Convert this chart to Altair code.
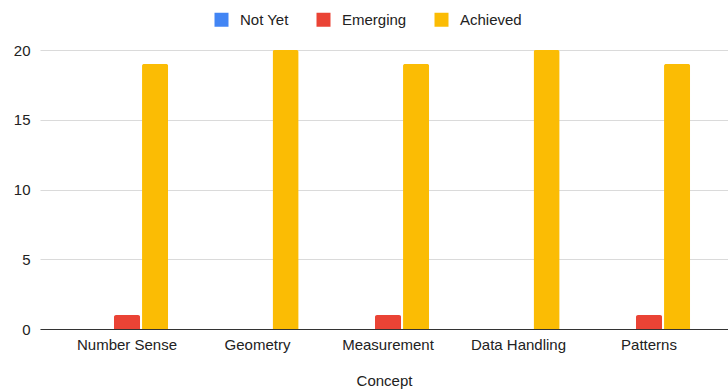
import altair as alt
import pandas as pd

concepts = ["Number Sense", "Geometry", "Measurement", "Data Handling", "Patterns"]
series = ["Not Yet", "Emerging", "Achieved"]
not_yet = [0, 0, 0, 0, 0]
emerging = [1, 0, 1, 0, 1]
achieved = [19, 20, 19, 20, 19]
colors = ["#4285F4", "#EA4335", "#FBBC04"]

rows = []
for vals, s in zip([not_yet, emerging, achieved], series):
    for c, v in zip(concepts, vals):
        rows.append({"Concept": c, "Series": s, "Value": v})
df = pd.DataFrame(rows)

FONT = "Liberation Sans"

chart = alt.Chart(df).mark_bar(cornerRadiusTopLeft=2, cornerRadiusTopRight=2).encode(
    x=alt.X("Concept:N", sort=concepts,
            scale=alt.Scale(paddingInner=0.37, paddingOuter=0.321, align=0.548),
            axis=alt.Axis(title="Concept", labelAngle=0, ticks=False, domainColor="#333333",
                          labelFontSize=15, labelColor="#222222", labelPadding=8,
                          titleFontSize=15, titleFontWeight="normal", titleColor="#222222",
                          titlePadding=21, labelFont=FONT, titleFont=FONT)),
    xOffset=alt.XOffset("Series:N", sort=series,
                        scale=alt.Scale(paddingInner=0.07, paddingOuter=0)),
    y=alt.Y("Value:Q", scale=alt.Scale(domain=[0, 20]),
            axis=alt.Axis(title=None, values=[0, 5, 10, 15, 20], domain=False, ticks=False,
                          gridColor="#dadada", labelFontSize=15, labelColor="#222222",
                          labelPadding=10, labelFont=FONT)),
    color=alt.Color("Series:N", sort=series,
                    scale=alt.Scale(domain=series, range=colors),
                    legend=alt.Legend(title=None, orient="none", direction="horizontal",
                                      legendX=174, legendY=-38, symbolType="square",
                                      symbolSize=196, symbolStrokeWidth=0,
                                      labelFontSize=15, labelColor="#222222", labelFont=FONT,
                                      columnPadding=27, labelOffset=11)),
).properties(
    width=688, height=279,
    padding={"left": 40, "top": 50, "right": 0, "bottom": 63},
    autosize="none",
).configure_view(stroke=None)

chart.save("out.html", embed_options={"renderer": "svg", "actions": False})
